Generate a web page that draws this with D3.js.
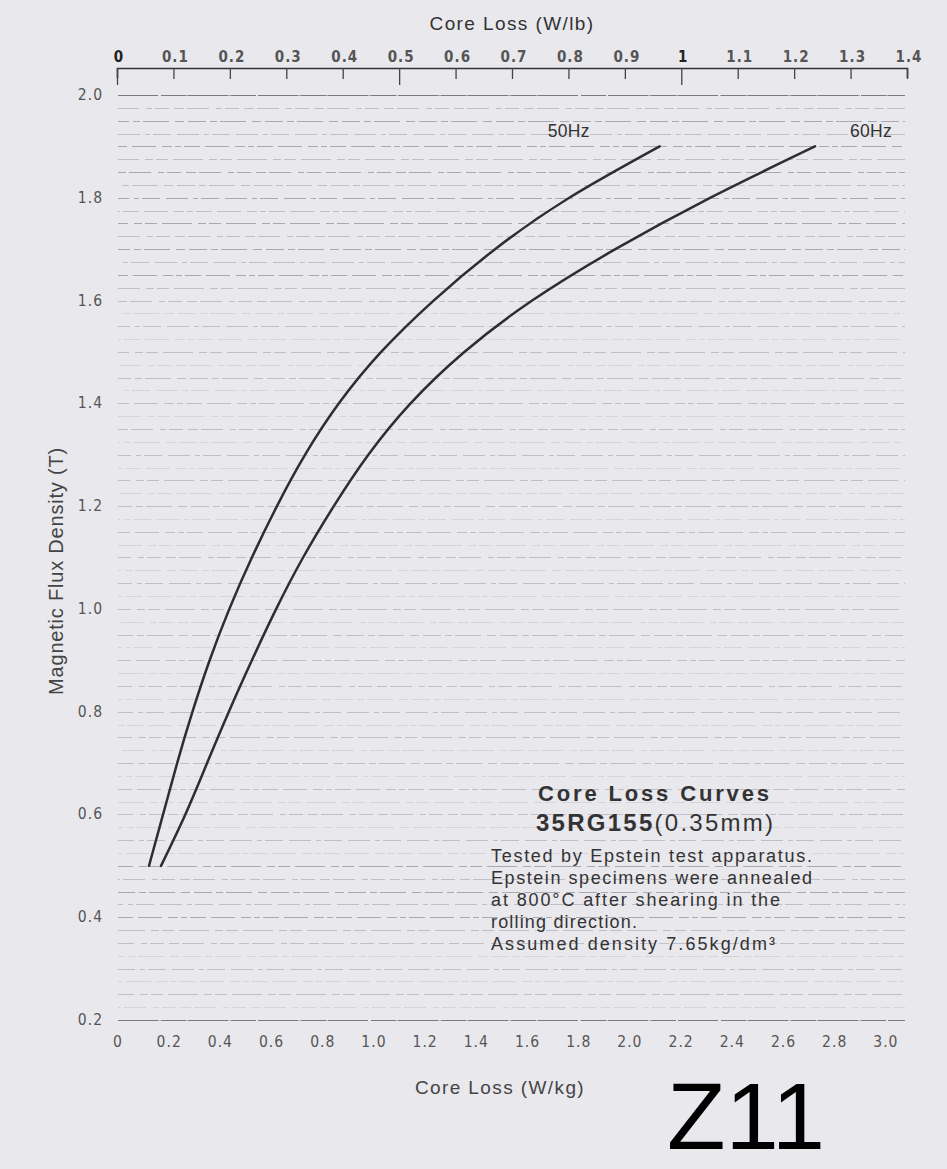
<!DOCTYPE html>
<html>
<head>
<meta charset="utf-8">
<script src="https://cdn.jsdelivr.net/npm/d3@7/dist/d3.min.js"></script>
<style>
  html, body { margin: 0; padding: 0; background: #e9e8ed; }
  svg { display: block; }
  .cond { font-family: "Liberation Sans Narrow", "DejaVu Sans Condensed", "Roboto Condensed", sans-serif; font-stretch: condensed; }
  .sans { font-family: "Liberation Sans", Arial, Helvetica, sans-serif; }
</style>
</head>
<body>
<script>
// ---- Data ----
// Magnetic flux density B (T)
const fluxDensity = [0.5, 0.6, 0.7, 0.8, 0.9, 1.0, 1.1, 1.2, 1.3, 1.4, 1.5, 1.6, 1.7, 1.8, 1.9];
// Core loss (W/kg) at 50 Hz
const loss50Hz = [0.125, 0.18, 0.235, 0.295, 0.362, 0.439, 0.527, 0.625, 0.735, 0.867, 1.032, 1.237, 1.477, 1.767, 2.12];
// Core loss (W/kg) at 60 Hz
const loss60Hz = [0.172, 0.267, 0.352, 0.437, 0.527, 0.622, 0.727, 0.847, 0.982, 1.147, 1.357, 1.622, 1.947, 2.317, 2.727];
const seriesNames = ["50Hz", "60Hz"];

// Axis tick labels
const topTicksWlb = [0, 0.1, 0.2, 0.3, 0.4, 0.5, 0.6, 0.7, 0.8, 0.9, 1.0, 1.1, 1.2, 1.3, 1.4];
const bottomTicksWkg = [0, 0.2, 0.4, 0.6, 0.8, 1.0, 1.2, 1.4, 1.6, 1.8, 2.0, 2.2, 2.4, 2.6, 2.8, 3.0];
const yTicksT = [0.2, 0.4, 0.6, 0.8, 1.0, 1.2, 1.4, 1.6, 1.8, 2.0];

const LB_PER_KG = 2.20462;

// ---- Layout ----
const W = 947, H = 1169;
const svg = d3.select("body").append("svg").attr("width", W).attr("height", H);
svg.append("rect").attr("width", W).attr("height", H).attr("fill", "#e9e8ed");

const xLb = d3.scaleLinear().domain([0, 1.4]).range([117, 907]);
const xKg = d3.scaleLinear().domain([0, 1.4 * LB_PER_KG]).range([117, 907]);
const y = d3.scaleLinear().domain([0.2, 2.0]).range([1020, 95]);

// ---- Scanned-looking horizontal grid lines ----
const gridVals = d3.range(0.2, 2.0001, 0.025);
const dashes = ["18 4 7 3 26 6 9 4", "10 3 22 7 6 3 14 5", "30 6 8 3 12 5", "6 3 16 5 24 6 10 3", "22 5 5 3 18 6"];
const grid = svg.append("g");
gridVals.forEach((v, i) => {
  const major = Math.abs((v * 20) - Math.round(v * 20)) < 1e-6;
  const dense = v > 1.62 || (v > 0.36 && v < 0.52);
  grid.append("line")
    .attr("x1", 118).attr("x2", 905)
    .attr("y1", Math.round(y(v)) + 0.5).attr("y2", Math.round(y(v)) + 0.5)
    .attr("stroke", "#8e8e98")
    .attr("stroke-width", 1)
    .attr("stroke-opacity", major ? (dense ? 0.7 : 0.45) : (dense ? 0.45 : 0.22))
    .attr("stroke-dasharray", dashes[i % dashes.length])
    .attr("stroke-dashoffset", (i * 7) % 23);
});
[2.0, 0.2].forEach(v => {
  svg.append("line").attr("x1", 118).attr("x2", 905)
    .attr("y1", y(v) + 0.5).attr("y2", y(v) + 0.5)
    .attr("stroke", "#7a7a84").attr("stroke-width", 1).attr("stroke-dasharray", "40 3 25 2");
});

// ---- Top axis (W/lb) ----
const topAxis = d3.axisBottom(xLb)
  .tickValues(topTicksWlb)
  .tickSize(10)
  .tickFormat("");
const gTop = svg.append("g").attr("transform", "translate(0,68)").call(topAxis);
gTop.select(".domain").attr("stroke", "#333").attr("stroke-width", 1.6);
gTop.selectAll(".tick line").attr("stroke", "#444").attr("stroke-width", 1.3)
  .attr("y2", d => (Math.abs(d - 0) < 1e-9 || Math.abs(d - 0.5) < 1e-9 || Math.abs(d - 1) < 1e-9) ? 17 : 11);
svg.append("g").selectAll("text").data(topTicksWlb).join("text")
  .attr("class", "cond")
  .attr("x", d => xLb(d) + 2)
  .attr("y", 62)
  .attr("text-anchor", "middle")
  .attr("font-size", 15)
  .attr("font-weight", "bold")
  .attr("letter-spacing", 1)
  .attr("fill", d => (d === 0 || d === 1) ? "#222" : "#555")
  .text(d => d === 0 ? "0" : (Math.abs(d - 1) < 1e-9 ? "1" : d.toFixed(1)));

svg.append("text").attr("class", "sans")
  .attr("x", 512).attr("y", 30).attr("text-anchor", "middle")
  .attr("font-size", 19).attr("fill", "#333").attr("letter-spacing", 1.4)
  .text("Core Loss (W/lb)");

// ---- Left axis (T) ----
svg.append("g").selectAll("text").data(yTicksT).join("text")
  .attr("class", "cond")
  .attr("x", 103)
  .attr("y", d => y(d) + 5)
  .attr("text-anchor", "end")
  .attr("font-size", 15.5)
  .attr("letter-spacing", 1)
  .attr("fill", "#555")
  .text(d => d.toFixed(1));

svg.append("text").attr("class", "sans")
  .attr("transform", "translate(63,571) rotate(-90)")
  .attr("text-anchor", "middle")
  .attr("font-size", 20).attr("fill", "#444").attr("letter-spacing", 0.8)
  .text("Magnetic Flux Density (T)");

// ---- Bottom axis (W/kg) ----
svg.append("g").selectAll("text").data(bottomTicksWkg).join("text")
  .attr("class", "cond")
  .attr("x", d => xKg(d) + 1)
  .attr("y", 1047)
  .attr("text-anchor", "middle")
  .attr("font-size", 15.5)
  .attr("letter-spacing", 1)
  .attr("fill", "#555")
  .text(d => d === 0 ? "0" : d.toFixed(1));

svg.append("text").attr("class", "sans")
  .attr("x", 500).attr("y", 1094).attr("text-anchor", "middle")
  .attr("font-size", 19).attr("fill", "#444").attr("letter-spacing", 1.4)
  .text("Core Loss (W/kg)");

// ---- Curves ----
const line = d3.line()
  .x(d => xKg(d.loss))
  .y(d => y(d.b))
  .curve(d3.curveNatural);

const series = [
  { name: seriesNames[0], values: fluxDensity.map((b, i) => ({ b, loss: loss50Hz[i] })) },
  { name: seriesNames[1], values: fluxDensity.map((b, i) => ({ b, loss: loss60Hz[i] })) }
];

svg.append("g").selectAll("path").data(series).join("path")
  .attr("d", d => line(d.values))
  .attr("fill", "none")
  .attr("stroke", "#2e2e2e")
  .attr("stroke-width", 2.5)
  .attr("stroke-linecap", "round");

// Series labels near the curve ends
svg.append("g").selectAll("text").data(series).join("text")
  .attr("class", "sans")
  .attr("x", (d, i) => xKg(d.values[d.values.length - 1].loss) + (i === 0 ? -112 : 77))
  .attr("y", 137)
  .attr("text-anchor", (d, i) => i === 0 ? "start" : "end")
  .attr("font-size", 17.5).attr("fill", "#333").attr("letter-spacing", 0.3)
  .text(d => d.name);

// ---- Annotation block ----
const note = svg.append("g").attr("class", "sans").attr("fill", "#333");
note.append("text").attr("x", 538).attr("y", 801)
  .attr("font-size", 22).attr("font-weight", "bold")
  .attr("textLength", 231).attr("lengthAdjust", "spacing")
  .text("Core Loss Curves");
const t2 = note.append("text").attr("x", 536).attr("y", 831)
  .attr("font-size", 24)
  .attr("textLength", 237).attr("lengthAdjust", "spacing");
t2.append("tspan").attr("font-weight", "bold").text("35RG155");
t2.append("tspan").text("(0.35mm)");

const bodyLines = [
  ["Tested by Epstein test apparatus.", 321],
  ["Epstein specimens were annealed", 321],
  ["at 800°C after shearing in the", 289],
  ["rolling direction.", 146],
  ["Assumed density 7.65kg/dm³", 284]
];
bodyLines.forEach((l, i) => {
  note.append("text").attr("x", 491).attr("y", 862 + i * 22)
    .attr("font-size", 18)
    .attr("textLength", l[1]).attr("lengthAdjust", "spacing")
    .text(l[0]);
});

// ---- Big "Z11" mark ----
svg.append("text").attr("class", "sans")
  .attr("x", 667).attr("y", 1149)
  .attr("font-size", 94).attr("fill", "#000")
  .attr("textLength", 158).attr("lengthAdjust", "spacingAndGlyphs")
  .text("Z11");
</script>
</body>
</html>
